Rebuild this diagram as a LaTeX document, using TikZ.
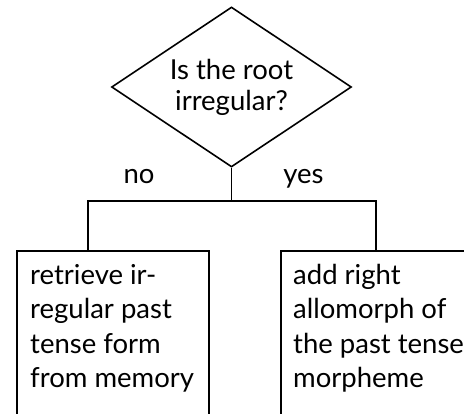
\documentclass[tikz,border=0pt]{standalone}
\usepackage{fontspec}
\setmainfont{Lato}
\usetikzlibrary{shapes.geometric}
\begin{document}
\begin{tikzpicture}[x=1pt,y=-1pt,
  conn/.style={line width=1.6pt},
  question/.style={draw, line width=1.6pt, diamond, aspect=1.5, minimum width=240pt, minimum height=160pt, inner sep=0pt, align=center, font=\fontsize{27.5}{31}\selectfont},
  actbox/.style={draw, line width=1.6pt, rectangle, minimum width=192pt, minimum height=190pt, anchor=north west, inner sep=0pt},
  acttext/.style={inner sep=0pt, align=left, anchor=base west, font=\fontsize{27.5}{34.5}\selectfont},
  answer/.style={inner sep=0pt, anchor=base, font=\fontsize{27.5}{31}\selectfont}]
\clip (0,0) rectangle (464,414);
\node[question] (q) at (231.5,87) {Is the root\\irregular?};
\node[actbox] (l) at (16,250) {};
\node[actbox] (r) at (280,250) {};
\node[acttext] (lt) at (30,388) {retrieve ir-\\regular past\\tense form\\from memory};
\node[acttext] (rt) at (293,388) {add right\\allomorph of\\the past tense\\morpheme};
\node[answer] (no) at (139,184) {no};
\node[answer] (yes) at (303.5,184) {yes};
\coordinate (j) at (231.5,201);
\coordinate (lc) at (88,250);
\coordinate (rc) at (376,250);
\draw[conn] (q.south) -- (j);
\draw[conn] (j) -| (lc);
\draw[conn] (j) -| (rc);
\end{tikzpicture}
\end{document}
